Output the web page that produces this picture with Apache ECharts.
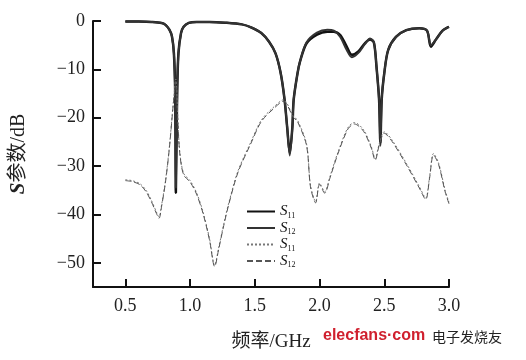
<!DOCTYPE html>
<html>
<head>
<meta charset="utf-8">
<script src="https://cdn.jsdelivr.net/npm/echarts@6/dist/echarts.min.js"></script>
<style>
  html, body { margin: 0; padding: 0; background: #fff; }
  #chart { width: 526px; height: 360px; }
</style>
</head>
<body>
<div id="chart"></div>
<script>
// 频率点 (GHz) 与 S 参数 (dB)
var solidX  = [0.5, 0.6, 0.7, 0.78, 0.81, 0.84, 0.86, 0.875, 0.885, 0.89, 0.9, 0.91, 0.93, 0.95, 0.99, 1.05, 1.15, 1.27, 1.4, 1.47, 1.55, 1.61, 1.66, 1.7, 1.73, 1.75, 1.77, 1.79, 1.8, 1.83, 1.85, 1.9, 1.98, 2.06, 2.11, 2.16, 2.21, 2.25, 2.3, 2.35, 2.39, 2.42, 2.44, 2.46, 2.47, 2.48, 2.5, 2.53, 2.59, 2.67, 2.77, 2.83, 2.86, 2.9, 2.95, 3.0];
var s11Solid = [-0.1, -0.12, -0.2, -0.4, -0.8, -1.8, -3.2, -6.7, -15, -35.5, -15, -6.7, -2.5, -1.2, -0.4, -0.2, -0.2, -0.35, -0.7, -1.3, -2.5, -4.3, -6.7, -10.8, -16.3, -22, -27.3, -22, -16.3, -10.8, -8.3, -4.6, -2.8, -2.2, -2.2, -2.9, -5.3, -7.0, -6.3, -4.6, -3.8, -4.5, -9.5, -16.3, -25.3, -16.3, -10.8, -6.0, -3.3, -1.9, -1.5, -2.0, -5.3, -3.8, -2.0, -1.2];
var s12Solid = [-0.1, -0.12, -0.2, -0.4, -0.8, -1.8, -3.2, -6.7, -15, -34.5, -15, -6.7, -2.5, -1.2, -0.4, -0.2, -0.2, -0.35, -0.7, -1.3, -2.5, -4.3, -6.7, -10.8, -16.3, -22, -27.8, -22, -16.3, -10.8, -8.3, -4.4, -2.4, -1.8, -2.0, -3.3, -6.0, -7.5, -6.6, -4.8, -3.6, -4.4, -9.5, -16.3, -25.8, -16.3, -10.8, -6.0, -3.3, -1.9, -1.5, -2.0, -5.0, -3.8, -2.0, -1.2];

var dashX   = [0.5, 0.55, 0.61, 0.66, 0.7, 0.74, 0.76, 0.78, 0.81, 0.84, 0.87, 0.89, 0.905, 0.92, 0.95, 1.0, 1.05, 1.1, 1.15, 1.19, 1.22, 1.26, 1.3, 1.37, 1.47, 1.55, 1.65, 1.72, 1.8, 1.83, 1.9, 1.93, 1.97, 2.0, 2.04, 2.08, 2.14, 2.22, 2.27, 2.34, 2.4, 2.43, 2.46, 2.5, 2.56, 2.67, 2.77, 2.82, 2.85, 2.88, 2.92, 2.97, 3.0];
var s11Dash = [-32.8, -33, -33.6, -35, -37, -39.5, -40.5, -38, -33, -26, -17, -12, -20, -27, -31.5, -33, -35.5, -39.5, -45, -50.5, -47, -42, -37.5, -31, -25, -20.5, -17.7, -16.3, -19.8, -20.5, -25.5, -34, -37.3, -33.5, -35.3, -32.2, -27.3, -22, -21, -22.5, -26, -28.5, -25.5, -22.9, -24.6, -29.4, -34.2, -36.6, -32.2, -27.4, -29.4, -35, -37.5];
var s12Dash = [-33.0, -33.2, -33.8, -35.3, -37.3, -39.8, -40.8, -38.3, -33.3, -26.3, -17.3, -12.5, -20.3, -27.3, -31.8, -33.3, -35.8, -39.8, -45.3, -50.8, -47.3, -42.3, -37.8, -31.3, -25.3, -20.8, -18, -16.6, -20, -20.8, -25.8, -34.3, -37.6, -33.8, -35.6, -32.5, -27.6, -22.3, -21.3, -22.8, -26.3, -28.8, -25.8, -23.2, -24.9, -29.7, -34.5, -36.9, -32.5, -27.7, -29.7, -35.3, -37.8];

var xTicks = [0.5, 1.0, 1.5, 2.0, 2.5, 3.0];
var yTicks = [0, -10, -20, -30, -40, -50];

function pairs(xs, ys) {
  var out = [];
  for (var i = 0; i < xs.length; i++) {
    out.push([xs[i], ys[i]]);
  }
  return out;
}

var serif = 'Liberation Serif, Noto Sans CJK SC';
var myChart = echarts.init(document.getElementById('chart'));

var option = {
  backgroundColor: '#fff',
  animation: false,
  grid: {
    left: 90,
    right: 77,
    top: 21,
    bottom: 73,
    containLabel: false
  },
  legend: {
    orient: 'vertical',
    left: 241,
    top: 199,
    itemWidth: 28,
    itemHeight: 14,
    itemGap: 1,
    data: ['S11', 'S12', 'S11 ', 'S12 '],
    itemStyle: { opacity: 0 },
    formatter: function (name) {
      return '{s|S}{sub|' + name.trim().slice(1) + '}';
    },
    textStyle: {
      rich: {
        s: { fontFamily: serif, fontStyle: 'italic', fontSize: 15, color: '#111' },
        sub: { fontFamily: serif, fontSize: 8, color: '#111', padding: [8, 0, 0, 0] }
      }
    }
  },
  xAxis: {
    type: 'value',
    min: 0.25,
    max: 3.0,
    name: '频率/GHz',
    nameLocation: 'middle',
    nameGap: 46,
    nameTextStyle: { fontFamily: serif, fontSize: 19, color: '#222' },
    splitLine: { show: false },
    axisLine: { show: true, onZero: false, lineStyle: { color: '#111', width: 2 } },
    axisTick: { show: true, inside: true, length: 8, customValues: xTicks, lineStyle: { color: '#111', width: 2 } },
    axisLabel: {
      customValues: xTicks,
      margin: 10,
      fontFamily: serif,
      fontSize: 18,
      color: '#222',
      formatter: function (v) { return v.toFixed(1); }
    }
  },
  yAxis: {
    type: 'value',
    min: -55,
    max: 0,
    name: '{s|S}{t|参数/dB}',
    nameLocation: 'middle',
    nameRotate: 90,
    nameGap: 64,
    nameTextStyle: {
      rich: {
        s: { fontFamily: serif, fontStyle: 'italic', fontWeight: 'bold', fontSize: 21, color: '#222' },
        t: { fontFamily: serif, fontSize: 20, color: '#222' }
      }
    },
    splitLine: { show: false },
    axisLine: { show: true, onZero: false, lineStyle: { color: '#111', width: 2 } },
    axisTick: { show: true, inside: true, length: 8, customValues: yTicks, lineStyle: { color: '#111', width: 2 } },
    axisLabel: {
      customValues: yTicks,
      margin: 8,
      fontFamily: serif,
      fontSize: 18,
      color: '#222',
      formatter: function (v) { return v < 0 ? '\u2212' + Math.abs(v) : String(v); }
    }
  },
  series: [
    {
      name: 'S11', type: 'line', symbol: 'none', smooth: 0.3,
      lineStyle: { color: '#111', width: 2.5 },
      itemStyle: { color: '#111' },
      data: pairs(solidX, s11Solid)
    },
    {
      name: 'S12', type: 'line', symbol: 'none', smooth: 0.3,
      lineStyle: { color: '#333', width: 2 },
      itemStyle: { color: '#333' },
      data: pairs(solidX, s12Solid)
    },
    {
      name: 'S11 ', type: 'line', symbol: 'none', smooth: 0.3,
      lineStyle: { color: '#777', width: 1, type: [2, 2] },
      itemStyle: { color: '#777' },
      data: pairs(dashX, s11Dash)
    },
    {
      name: 'S12 ', type: 'line', symbol: 'none', smooth: 0.3,
      lineStyle: { color: '#555', width: 1, type: [6, 3] },
      itemStyle: { color: '#555' },
      data: pairs(dashX, s12Dash)
    }
  ],
  graphic: [
    {
      type: 'text', left: 323, top: 328,
      style: { text: 'elecfans·com', fontFamily: 'Liberation Sans, sans-serif', fontWeight: 'bold', fontSize: 16, fill: '#d0202e' }
    },
    {
      type: 'text', left: 432, top: 330,
      style: { text: '电子发烧友', fontFamily: 'Noto Sans CJK SC', fontSize: 14, fill: '#222' }
    }
  ]
};

myChart.setOption(option);
</script>
</body>
</html>
